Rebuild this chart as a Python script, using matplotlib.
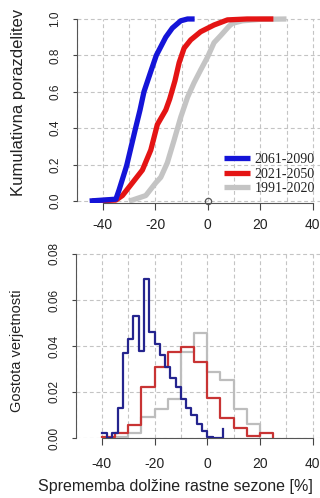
import matplotlib
matplotlib.use("Agg")
import matplotlib.pyplot as plt
import numpy as np

# ---------------- data ----------------
labels = ["2061-2090", "2021-2050", "1991-2020"]
colors_cdf = ["#1414d8", "#e41414", "#c4c4c4"]
colors_hist = ["#24248e", "#c83434", "#bdbdbd"]

# cumulative distribution (x, probability)
cdf_blue_x = [-45, -40, -35, -33.8, -31.2, -30.8, -27.5, -25.8, -24.3, -21.5, -19.6, -16.0, -13.5, -10.3, -7.7, -5]
cdf_blue_p = [0.0, 0.005, 0.01, 0.06, 0.18, 0.2, 0.4, 0.5, 0.6, 0.72, 0.8, 0.9, 0.95, 0.99, 1.0, 1.0]
cdf_red_x = [-44, -35, -32.5, -28.7, -24.9, -21.7, -19.2, -16.0, -14.5, -12.5, -10.9, -9.0, -6.5, -2.7, 2.4, 7.5, 15, 25]
cdf_red_p = [0.0, 0.005, 0.03, 0.1, 0.17, 0.28, 0.42, 0.5, 0.56, 0.66, 0.76, 0.84, 0.885, 0.93, 0.967, 0.995, 1.0, 1.0]
cdf_gray_x = [-30, -28.7, -23.6, -19.8, -17.9, -15.4, -12.8, -10.3, -7.7, -5.2, -2.7, -0.1, 2.4, 5.0, 8.1, 9.4, 13.2, 20, 30]
cdf_gray_p = [0.0, 0.005, 0.03, 0.1, 0.13, 0.21, 0.335, 0.46, 0.57, 0.65, 0.72, 0.79, 0.87, 0.91, 0.96, 0.976, 0.99, 0.998, 1.0]

# histogram densities (left bin edges, heights; last entry = closing step)
hist_blue_x = [-40, -38, -36, -34, -32, -30, -28, -26, -24, -22, -20, -18, -16, -14, -12, -10, -8, -6, -4, -2, 0, 2, 4, 6]
hist_blue_y = [0.002, 0.0, 0.002, 0.013, 0.037, 0.043, 0.053, 0.038, 0.069, 0.046, 0.041, 0.036, 0.031, 0.026,
               0.022, 0.017, 0.013, 0.010, 0.006, 0.003, 0.0005, 0.0, 0.0, 0.004]
hist_red_x = [-40, -35, -30, -25, -20, -15, -10, -5, 0, 5, 10, 15, 20, 25]
hist_red_y = [0.0005, 0.0023, 0.0057, 0.022, 0.031, 0.0375, 0.0397, 0.033, 0.0175, 0.0086, 0.0043, 0.0008, 0.0022, 0.0]
hist_gray_x = [-35, -30, -25, -20, -15, -10, -5, 0, 5, 10, 15, 20]
hist_gray_y = [0.0003, 0.002, 0.009, 0.0125, 0.0168, 0.0375, 0.0455, 0.0288, 0.0252, 0.0125, 0.0061, 0.0]

xticks = [-40, -20, 0, 20, 40]
yticks_top = [0.0, 0.2, 0.4, 0.6, 0.8, 1.0]
yticks_bot = [0.00, 0.02, 0.04, 0.06, 0.08]

# ---------------- figure ----------------
W, H = 320, 498
fig = plt.figure(figsize=(W / 100, H / 100), dpi=100)
fig.patch.set_facecolor("white")

def frac_rect(left_px, top_px, right_px, bottom_px):
    return [left_px / W, 1 - bottom_px / H, (right_px - left_px) / W, (bottom_px - top_px) / H]

ax1 = fig.add_axes(frac_rect(76.5, 11.7, 339.0, 203.0))
ax2 = fig.add_axes(frac_rect(75.5, 246.6, 339.0, 438.0))

grid_kw = dict(color="#c4c4c4", lw=0.8, linestyles=(0, (3.5, 2.5)), zorder=0)

def style(ax, yt, ylim, ylabels):
    ax.set_xlim(-50, 50)
    ax.set_ylim(*ylim)
    ax.vlines(np.arange(-50, 51, 10), yt[0], yt[-1], **grid_kw)
    ax.hlines(yt, -50, 50, **grid_kw)
    for s in ["top", "right"]:
        ax.spines[s].set_visible(False)
    ax.spines["left"].set_bounds(yt[0], yt[-1])
    ax.spines["bottom"].set_bounds(-40, 40)
    for s in ["left", "bottom"]:
        ax.spines[s].set_color("#555555")
        ax.spines[s].set_linewidth(0.8)
    ax.set_xticks(xticks)
    ax.set_xticklabels([str(v) for v in xticks])
    ax.set_yticks(yt)
    ax.set_yticklabels(ylabels, rotation=90, va="center")
    ax.tick_params(axis="x", length=5, width=0.8, color="#444444", labelsize=10, pad=6,
                   labelcolor="#222222")
    ax.tick_params(axis="y", length=3, width=0.8, color="#444444", labelsize=8.5, pad=8,
                   labelcolor="#222222")
    for lab in ax.get_xticklabels() + ax.get_yticklabels():
        lab.set_family("Liberation Sans")

# --- top panel: cumulative distributions
style(ax1, yticks_top, (-0.011, 1.04), ["0.0", "0.2", "0.4", "0.6", "0.8", "1.0"])
series_cdf = [(cdf_gray_x, cdf_gray_p, 2), (cdf_red_x, cdf_red_p, 1), (cdf_blue_x, cdf_blue_p, 0)]
handles = {}
for xs, ps, i in series_cdf:
    h, = ax1.plot(xs, ps, color=colors_cdf[i], lw=3.8, solid_capstyle="butt", zorder=3 + (2 - i))
    handles[i] = h
ax1.plot([0], [0], marker="o", ms=4.5, mfc="none", mec="#555555", mew=0.9, zorder=6, clip_on=False)

leg = ax1.legend([handles[0], handles[1], handles[2]], labels, loc="lower left",
                 bbox_to_anchor=(0.56, 0.04), frameon=False, handlelength=1.9,
                 handletextpad=0.35, labelspacing=0.12, borderpad=0, borderaxespad=0,
                 prop={"family": "Liberation Serif", "size": 10})
for t in leg.get_texts():
    t.set_color("#222222")

fig.text(19 / W, 1 - 102 / H, "Kumulativna porazdelitev", rotation=90, ha="center", va="center",
         fontsize=12, family="Liberation Sans", color="#222222")

# --- bottom panel: histograms
style(ax2, yticks_bot, (0.0, 0.0832), ["0.00", "0.02", "0.04", "0.06", "0.08"])
ax2.tick_params(axis="x", pad=9)
for xs, ys, i in [(hist_gray_x, hist_gray_y, 2), (hist_red_x, hist_red_y, 1), (hist_blue_x, hist_blue_y, 0)]:
    ax2.step(xs, ys, where="post", color=colors_hist[i], lw=1.6, zorder=3 + (2 - i))

fig.text(17 / W, 1 - 351 / H, "Gostota verjetnosti", rotation=90, ha="center", va="center",
         fontsize=10.5, family="Liberation Sans", color="#222222")
fig.text(38 / W, 1 - 486 / H, "Sprememba dolžine rastne sezone [%]", ha="left", va="center",
         fontsize=11.5, family="Liberation Sans", color="#222222")

fig.savefig("out.png", dpi=100, facecolor="white")
